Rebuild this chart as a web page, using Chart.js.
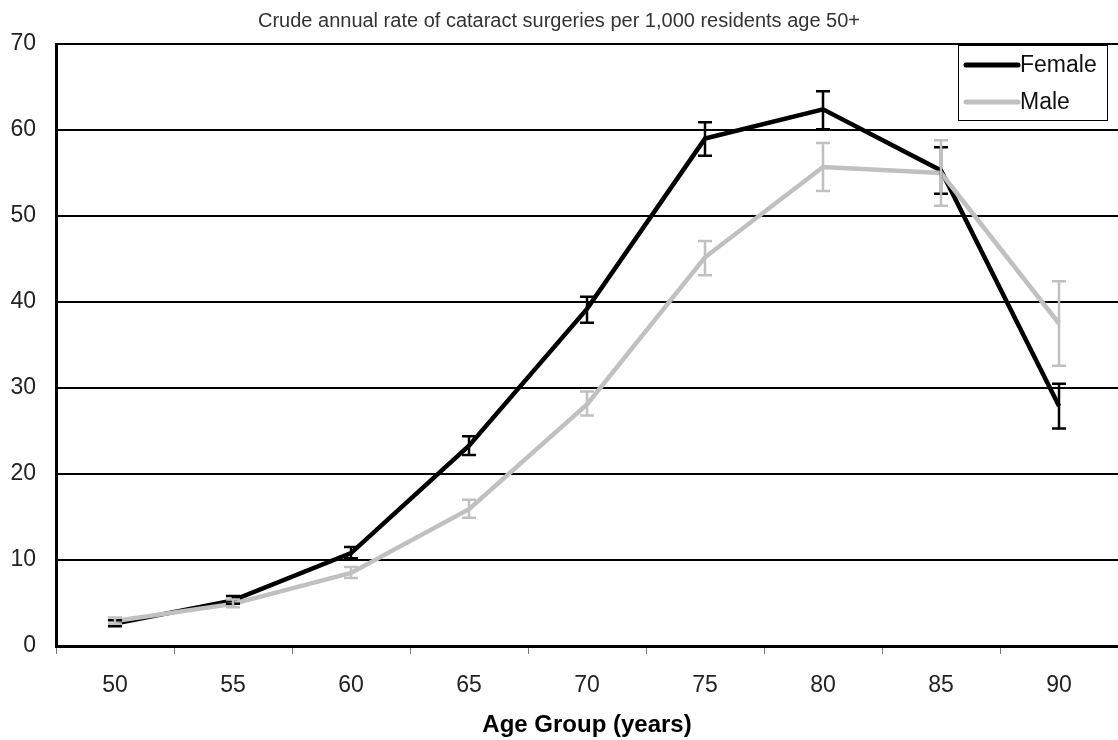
<!DOCTYPE html>
<html>
<head>
<meta charset="utf-8">
<script src="https://cdn.jsdelivr.net/npm/chart.js@4"></script>
<style>
  html, body { margin: 0; padding: 0; background: #fff; }
  #wrap { width: 1118px; height: 740px; position: relative; }
</style>
</head>
<body>
<div id="wrap"><canvas id="myChart"></canvas></div>
<script>
// age groups (x axis)
const ageGroups = ['50', '55', '60', '65', '70', '75', '80', '85', '90'];
const yTicks = [0, 10, 20, 30, 40, 50, 60, 70];

// crude rate per 1,000 residents
const female = [2.6, 5.3, 10.8, 23.3, 39.2, 59.0, 62.4, 55.3, 27.9];
const femaleLow = [2.3, 4.9, 10.2, 22.2, 37.6, 57.0, 60.1, 52.6, 25.3];
const femaleHigh = [3.0, 5.8, 11.5, 24.4, 40.6, 60.9, 64.5, 58.0, 30.5];

const male = [2.9, 4.9, 8.5, 15.9, 28.1, 45.2, 55.7, 55.0, 37.5];
const maleLow = [2.6, 4.5, 7.9, 14.9, 26.8, 43.1, 52.9, 51.2, 32.6];
const maleHigh = [3.3, 5.4, 9.2, 17.0, 29.6, 47.1, 58.5, 58.8, 42.4];

const FONT = "'Liberation Sans', Arial, sans-serif";
const ctx = document.getElementById('myChart');

//barras de error
const errorBars = {
  id: 'errorBars',
  afterDatasetsDraw(chart) {
    const c = chart.ctx;
    const xs = chart.scales.x;
    const ys = chart.scales.y;
    chart.data.datasets.forEach((ds) => {
      c.save();
      c.strokeStyle = ds.borderColor;
      c.lineWidth = 2.5;
      ds.data.forEach((v, i) => {
        const x = xs.getPixelForValue(i);
        const top = ys.getPixelForValue(ds.errHigh[i]);
        const bot = ys.getPixelForValue(ds.errLow[i]);
        c.beginPath();
        c.moveTo(x, top);
        c.lineTo(x, bot);
        c.moveTo(x - 7, top);
        c.lineTo(x + 7, top);
        c.moveTo(x - 7, bot);
        c.lineTo(x + 7, bot);
        c.stroke();
      });
      c.restore();
    });
  },
};

//leyenda dentro del grafico
const boxLegend = {
  id: 'boxLegend',
  afterDraw(chart) {
    const c = chart.ctx;
    const x0 = 958, y0 = 45, w = 149, h = 75;
    c.save();
    c.fillStyle = '#fff';
    c.fillRect(x0, y0, w, h);
    c.strokeStyle = '#000';
    c.lineWidth = 1;
    c.strokeRect(x0 + 0.5, y0 + 0.5, w, h);
    c.font = '23px ' + FONT;
    c.textBaseline = 'middle';
    chart.data.datasets.forEach((ds, j) => {
      const y = y0 + 20 + j * 37;
      c.strokeStyle = ds.borderColor;
      c.lineWidth = 5;
      c.lineCap = 'round';
      c.beginPath();
      c.moveTo(x0 + 8, y);
      c.lineTo(x0 + 60, y);
      c.stroke();
      c.fillStyle = '#111';
      c.fillText(ds.label, x0 + 62, y + 1);
    });
    c.restore();
  },
};

const myChart = new Chart(ctx, {
  type: 'line',
  data: {
    labels: ageGroups,
    datasets: [
      {
        label: 'Female',
        data: female,
        errLow: femaleLow,
        errHigh: femaleHigh,
        borderColor: '#000000',
        borderWidth: 4.5,
        pointRadius: 0,
        tension: 0,
        order: 1,
      },
      {
        label: 'Male',
        data: male,
        errLow: maleLow,
        errHigh: maleHigh,
        borderColor: '#c0c0c0',
        borderWidth: 4.5,
        pointRadius: 0,
        tension: 0,
        order: 0,
      },
    ],
  },
  options: {
    responsive: true,
    maintainAspectRatio: false,
    animation: false,
    layout: { padding: 0 },
    plugins: {
      legend: { display: false },
      tooltip: { enabled: false },
      title: {
        display: true,
        text: 'Crude annual rate of cataract surgeries per 1,000 residents age 50+',
        color: '#333',
        font: { family: FONT, size: 20, weight: 'normal', lineHeight: 1.2 },
        padding: { top: 9, bottom: 11 },
      },
    },
    scales: {
      x: {
        offset: true,
        afterFit: (s) => {
          s.height = 94;
        },
        grid: {
          offset: true,
          drawOnChartArea: false,
          drawTicks: true,
          tickLength: 8,
          color: '#777',
          lineWidth: 1,
        },
        border: { display: true, color: '#000', width: 3 },
        ticks: {
          color: '#222',
          font: { family: FONT, size: 23, lineHeight: 1.2 },
          padding: 18,
        },
        title: {
          display: true,
          text: 'Age Group (years)',
          color: '#000',
          font: { family: FONT, size: 24, weight: 'bold', lineHeight: 1.2 },
          padding: { top: 8, bottom: 0 },
        },
      },
      y: {
        min: 0,
        max: 70,
        afterFit: (s) => {
          s.width = 56;
        },
        afterBuildTicks: (s) => {
          s.ticks = yTicks.map((v) => ({ value: v }));
        },
        grid: {
          color: '#000',
          lineWidth: 2,
          drawTicks: false,
        },
        border: { display: true, color: '#000', width: 3 },
        ticks: {
          color: '#222',
          font: { family: FONT, size: 23 },
          padding: 20,
        },
      },
    },
  },
  plugins: [errorBars, boxLegend],
});
</script>
</body>
</html>
